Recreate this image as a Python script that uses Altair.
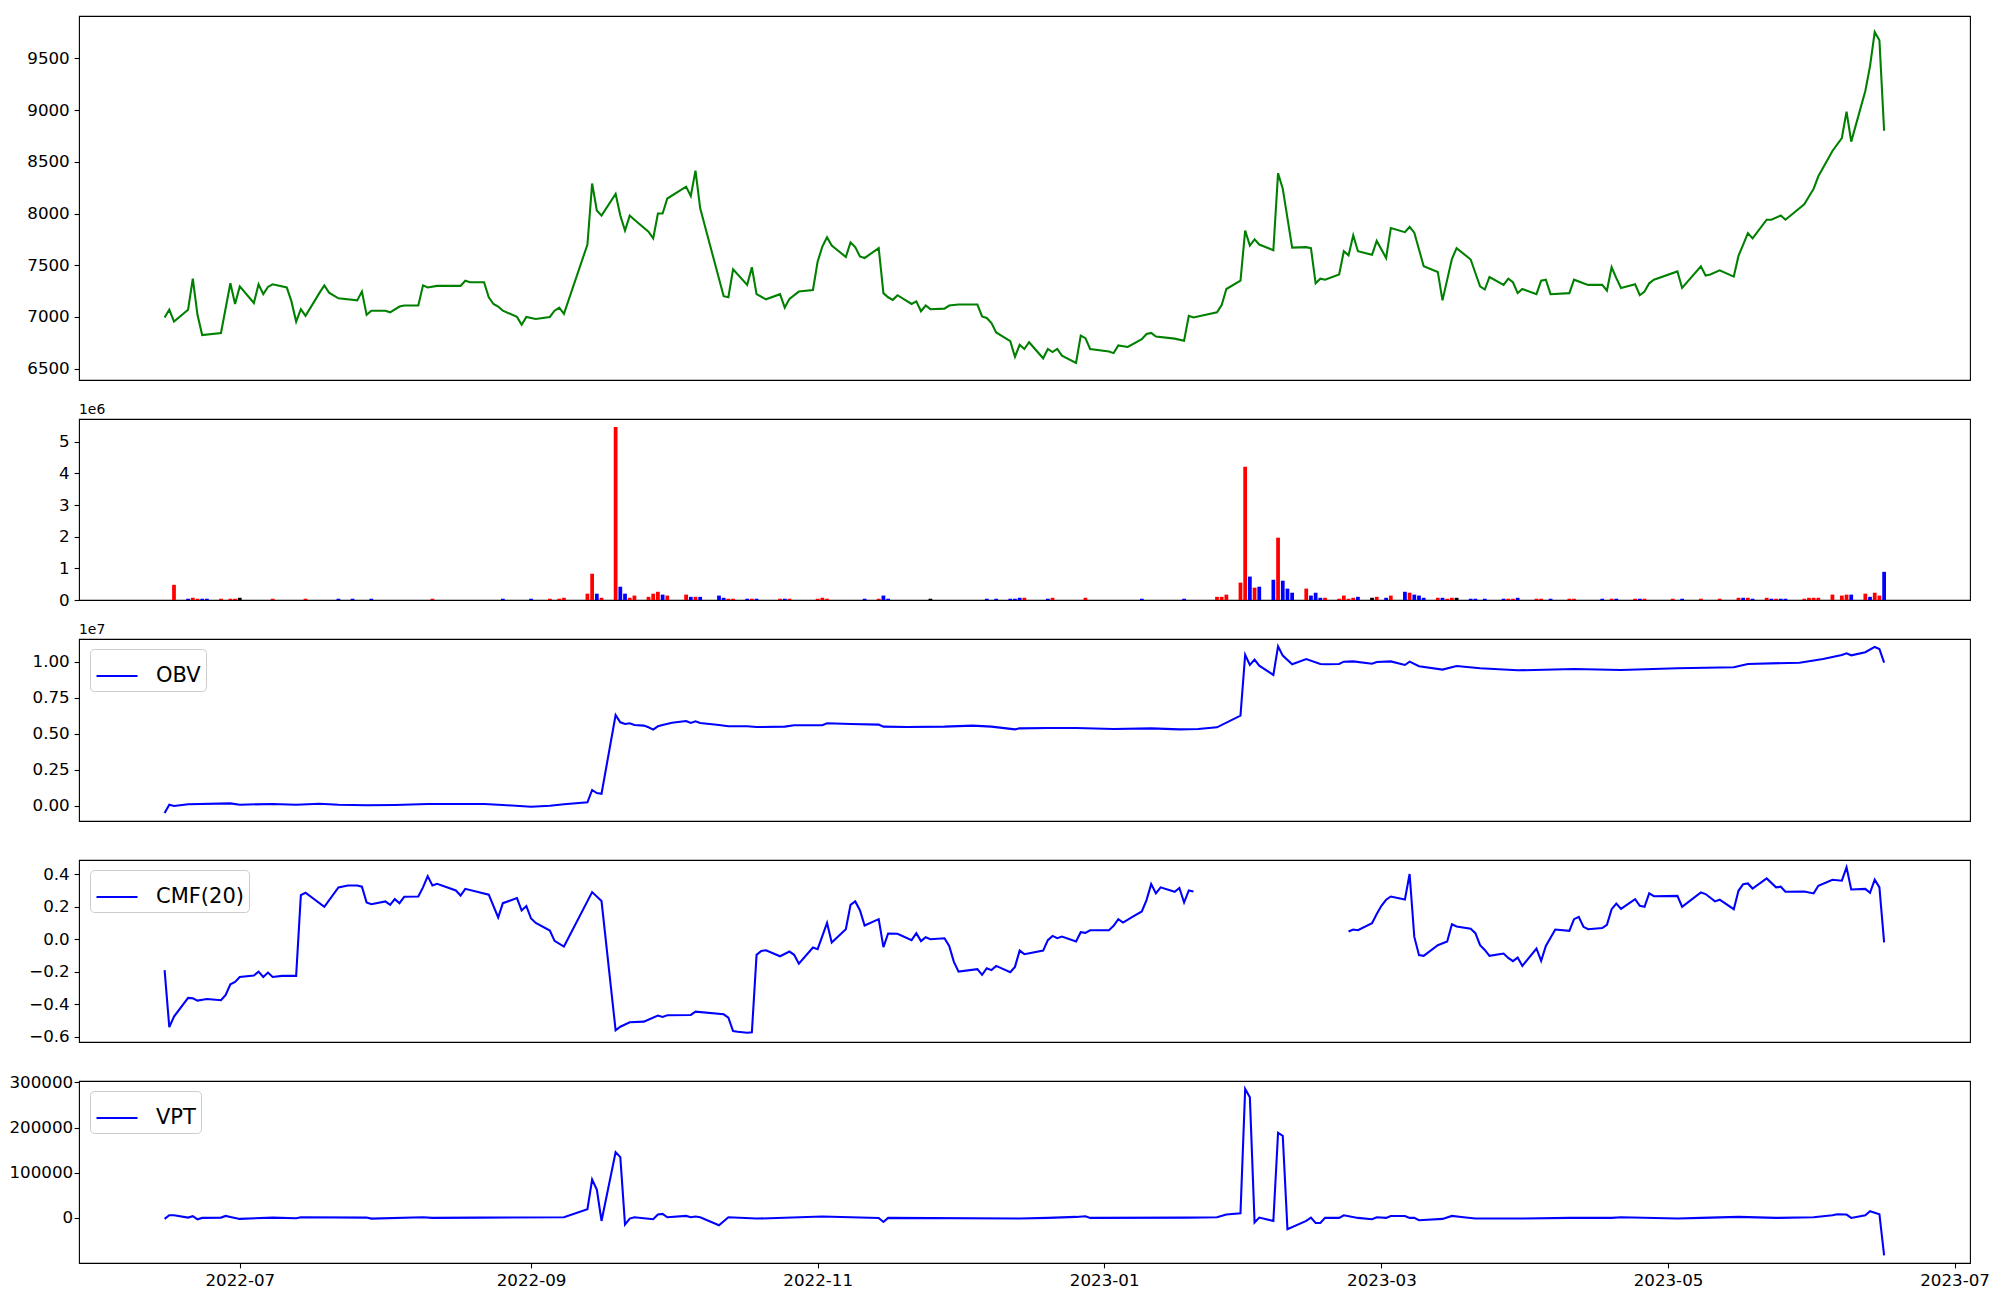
import altair as alt
import pandas as pd

FONT = "DejaVu Sans"

# ---------------- data ----------------
price = [
    ("2022-06-15", 6995), ("2022-06-16", 7070), ("2022-06-17", 6955), ("2022-06-20", 7070),
    ("2022-06-21", 7370), ("2022-06-22", 7020), ("2022-06-23", 6825), ("2022-06-27", 6845),
    ("2022-06-29", 7325), ("2022-06-30", 7125), ("2022-07-01", 7295), ("2022-07-04", 7135),
    ("2022-07-05", 7315), ("2022-07-06", 7220), ("2022-07-07", 7290), ("2022-07-08", 7315),
    ("2022-07-11", 7285), ("2022-07-12", 7150), ("2022-07-13", 6955), ("2022-07-14", 7075),
    ("2022-07-15", 7010), ("2022-07-18", 7235), ("2022-07-19", 7305), ("2022-07-20", 7235),
    ("2022-07-22", 7180), ("2022-07-26", 7160), ("2022-07-27", 7245), ("2022-07-28", 7020),
    ("2022-07-29", 7060), ("2022-08-01", 7060), ("2022-08-02", 7045), ("2022-08-04", 7100),
    ("2022-08-05", 7110), ("2022-08-08", 7110), ("2022-08-09", 7305), ("2022-08-10", 7285),
    ("2022-08-12", 7300), ("2022-08-17", 7300), ("2022-08-18", 7350), ("2022-08-19", 7335),
    ("2022-08-22", 7335), ("2022-08-23", 7190), ("2022-08-24", 7125), ("2022-08-25", 7100),
    ("2022-08-26", 7060), ("2022-08-29", 7000), ("2022-08-30", 6925), ("2022-08-31", 7000),
    ("2022-09-02", 6980), ("2022-09-05", 7000), ("2022-09-06", 7060), ("2022-09-07", 7090),
    ("2022-09-08", 7030), ("2022-09-13", 7700), ("2022-09-14", 8290), ("2022-09-15", 8030),
    ("2022-09-16", 7980), ("2022-09-19", 8190), ("2022-09-20", 7980), ("2022-09-21", 7835),
    ("2022-09-22", 7980), ("2022-09-23", 7940), ("2022-09-26", 7825), ("2022-09-27", 7760),
    ("2022-09-28", 8000), ("2022-09-29", 8000), ("2022-09-30", 8145), ("2022-10-04", 8260),
    ("2022-10-05", 8170), ("2022-10-06", 8415), ("2022-10-07", 8050), ("2022-10-12", 7200),
    ("2022-10-13", 7190), ("2022-10-14", 7460), ("2022-10-17", 7310), ("2022-10-18", 7480),
    ("2022-10-19", 7220), ("2022-10-21", 7170), ("2022-10-24", 7220), ("2022-10-25", 7090),
    ("2022-10-26", 7175), ("2022-10-28", 7245), ("2022-10-31", 7260), ("2022-11-01", 7535),
    ("2022-11-02", 7680), ("2022-11-03", 7770), ("2022-11-04", 7690), ("2022-11-07", 7580),
    ("2022-11-08", 7720), ("2022-11-09", 7675), ("2022-11-10", 7585), ("2022-11-11", 7570),
    ("2022-11-14", 7665), ("2022-11-15", 7230), ("2022-11-16", 7190), ("2022-11-17", 7165),
    ("2022-11-18", 7210), ("2022-11-21", 7125), ("2022-11-22", 7150), ("2022-11-23", 7055),
    ("2022-11-24", 7110), ("2022-11-25", 7075), ("2022-11-28", 7080), ("2022-11-29", 7110),
    ("2022-12-01", 7120), ("2022-12-05", 7120), ("2022-12-06", 7005), ("2022-12-07", 6990),
    ("2022-12-08", 6940), ("2022-12-09", 6850), ("2022-12-12", 6765), ("2022-12-13", 6615),
    ("2022-12-14", 6730), ("2022-12-15", 6690), ("2022-12-16", 6755), ("2022-12-19", 6600),
    ("2022-12-20", 6690), ("2022-12-21", 6660), ("2022-12-22", 6690), ("2022-12-23", 6625),
    ("2022-12-26", 6555), ("2022-12-27", 6820), ("2022-12-28", 6795), ("2022-12-29", 6690),
    ("2023-01-02", 6665), ("2023-01-03", 6650), ("2023-01-04", 6725), ("2023-01-06", 6710),
    ("2023-01-09", 6785), ("2023-01-10", 6835), ("2023-01-11", 6845), ("2023-01-12", 6810),
    ("2023-01-16", 6790), ("2023-01-18", 6770), ("2023-01-19", 7010), ("2023-01-20", 6995),
    ("2023-01-25", 7045), ("2023-01-26", 7115), ("2023-01-27", 7270), ("2023-01-30", 7350),
    ("2023-01-31", 7835), ("2023-02-01", 7690), ("2023-02-02", 7750), ("2023-02-03", 7700),
    ("2023-02-06", 7645), ("2023-02-07", 8390), ("2023-02-08", 8240), ("2023-02-10", 7670),
    ("2023-02-13", 7675), ("2023-02-14", 7665), ("2023-02-15", 7325), ("2023-02-16", 7370),
    ("2023-02-17", 7360), ("2023-02-20", 7410), ("2023-02-21", 7635), ("2023-02-22", 7595),
    ("2023-02-23", 7790), ("2023-02-24", 7635), ("2023-02-27", 7600), ("2023-02-28", 7735),
    ("2023-03-02", 7570), ("2023-03-03", 7860), ("2023-03-06", 7820), ("2023-03-07", 7870),
    ("2023-03-08", 7815), ("2023-03-10", 7490), ("2023-03-13", 7435), ("2023-03-14", 7160),
    ("2023-03-16", 7560), ("2023-03-17", 7665), ("2023-03-20", 7555), ("2023-03-21", 7425),
    ("2023-03-22", 7295), ("2023-03-23", 7265), ("2023-03-24", 7385), ("2023-03-27", 7310),
    ("2023-03-28", 7370), ("2023-03-29", 7335), ("2023-03-30", 7230), ("2023-03-31", 7270),
    ("2023-04-03", 7220), ("2023-04-04", 7350), ("2023-04-05", 7360), ("2023-04-06", 7220),
    ("2023-04-10", 7230), ("2023-04-11", 7360), ("2023-04-13", 7325), ("2023-04-14", 7310),
    ("2023-04-17", 7310), ("2023-04-18", 7255), ("2023-04-19", 7480), ("2023-04-20", 7375),
    ("2023-04-21", 7280), ("2023-04-24", 7315), ("2023-04-25", 7210), ("2023-04-26", 7245),
    ("2023-04-27", 7325), ("2023-04-28", 7360), ("2023-05-03", 7440), ("2023-05-04", 7280),
    ("2023-05-08", 7490), ("2023-05-09", 7400), ("2023-05-10", 7410), ("2023-05-12", 7450),
    ("2023-05-15", 7390), ("2023-05-16", 7590), ("2023-05-17", 7700), ("2023-05-18", 7810),
    ("2023-05-19", 7760), ("2023-05-22", 7940), ("2023-05-23", 7940), ("2023-05-25", 7980),
    ("2023-05-26", 7940), ("2023-05-30", 8090), ("2023-05-31", 8165), ("2023-06-01", 8240),
    ("2023-06-02", 8360), ("2023-06-05", 8605), ("2023-06-07", 8730), ("2023-06-08", 8985),
    ("2023-06-09", 8695), ("2023-06-12", 9185), ("2023-06-13", 9425), ("2023-06-14", 9755),
    ("2023-06-15", 9675), ("2023-06-16", 8800),
]

volume = [
    ("2022-06-17", 480000, "up"), ("2022-06-20", 40000, "down"), ("2022-06-21", 70000, "up"),
    ("2022-06-22", 40000, "up"), ("2022-06-23", 40000, "down"), ("2022-06-24", 40000, "down"),
    ("2022-06-27", 40000, "up"), ("2022-06-29", 40000, "up"), ("2022-06-30", 40000, "up"),
    ("2022-07-01", 70000, "flat"), ("2022-07-08", 40000, "up"), ("2022-07-15", 40000, "up"),
    ("2022-07-22", 40000, "down"), ("2022-07-25", 40000, "down"), ("2022-07-29", 40000, "down"),
    ("2022-08-11", 40000, "up"), ("2022-08-26", 40000, "down"), ("2022-09-01", 40000, "down"),
    ("2022-09-05", 40000, "up"), ("2022-09-07", 40000, "up"), ("2022-09-08", 70000, "up"),
    ("2022-09-13", 200000, "up"), ("2022-09-14", 830000, "up"), ("2022-09-15", 200000, "down"),
    ("2022-09-16", 70000, "up"), ("2022-09-19", 5470000, "up"), ("2022-09-20", 420000, "down"),
    ("2022-09-21", 200000, "down"), ("2022-09-22", 70000, "up"), ("2022-09-23", 140000, "up"),
    ("2022-09-26", 100000, "up"), ("2022-09-27", 200000, "up"), ("2022-09-28", 260000, "up"),
    ("2022-09-29", 170000, "down"), ("2022-09-30", 140000, "up"), ("2022-10-04", 170000, "up"),
    ("2022-10-05", 100000, "down"), ("2022-10-06", 100000, "up"), ("2022-10-07", 100000, "down"),
    ("2022-10-11", 140000, "down"), ("2022-10-12", 70000, "down"), ("2022-10-13", 40000, "up"),
    ("2022-10-14", 40000, "up"), ("2022-10-17", 40000, "down"), ("2022-10-18", 40000, "up"),
    ("2022-10-19", 40000, "down"), ("2022-10-24", 40000, "up"), ("2022-10-25", 40000, "down"),
    ("2022-10-26", 40000, "up"), ("2022-11-01", 40000, "up"), ("2022-11-02", 70000, "up"),
    ("2022-11-03", 40000, "up"), ("2022-11-11", 40000, "down"), ("2022-11-14", 40000, "up"),
    ("2022-11-15", 140000, "down"), ("2022-11-16", 40000, "down"), ("2022-11-25", 40000, "flat"),
    ("2022-12-07", 40000, "down"), ("2022-12-09", 40000, "down"), ("2022-12-12", 40000, "down"),
    ("2022-12-13", 40000, "down"), ("2022-12-14", 70000, "down"), ("2022-12-15", 70000, "up"),
    ("2022-12-20", 40000, "down"), ("2022-12-21", 70000, "up"), ("2022-12-28", 70000, "up"),
    ("2023-01-09", 40000, "down"), ("2023-01-18", 40000, "down"), ("2023-01-25", 100000, "up"),
    ("2023-01-26", 100000, "up"), ("2023-01-27", 170000, "up"), ("2023-01-30", 550000, "up"),
    ("2023-01-31", 4210000, "up"), ("2023-02-01", 740000, "down"), ("2023-02-02", 390000, "up"),
    ("2023-02-03", 420000, "down"), ("2023-02-06", 640000, "down"), ("2023-02-07", 1970000, "up"),
    ("2023-02-08", 610000, "down"), ("2023-02-09", 360000, "down"), ("2023-02-10", 230000, "down"),
    ("2023-02-13", 360000, "up"), ("2023-02-14", 140000, "down"), ("2023-02-15", 230000, "down"),
    ("2023-02-16", 70000, "down"), ("2023-02-17", 70000, "up"), ("2023-02-20", 40000, "up"),
    ("2023-02-21", 140000, "up"), ("2023-02-22", 40000, "up"), ("2023-02-23", 70000, "up"),
    ("2023-02-24", 100000, "down"), ("2023-02-27", 70000, "flat"), ("2023-02-28", 100000, "up"),
    ("2023-03-02", 70000, "down"), ("2023-03-03", 140000, "up"), ("2023-03-06", 260000, "down"),
    ("2023-03-07", 230000, "up"), ("2023-03-08", 170000, "down"), ("2023-03-09", 140000, "down"),
    ("2023-03-10", 70000, "down"), ("2023-03-13", 70000, "up"), ("2023-03-14", 70000, "down"),
    ("2023-03-15", 40000, "up"), ("2023-03-16", 70000, "up"), ("2023-03-17", 70000, "flat"),
    ("2023-03-20", 40000, "down"), ("2023-03-21", 40000, "down"), ("2023-03-23", 40000, "down"),
    ("2023-03-27", 40000, "down"), ("2023-03-28", 40000, "up"), ("2023-03-29", 40000, "up"),
    ("2023-03-30", 70000, "down"), ("2023-04-03", 40000, "up"), ("2023-04-04", 40000, "up"),
    ("2023-04-06", 40000, "down"), ("2023-04-10", 40000, "up"), ("2023-04-11", 40000, "up"),
    ("2023-04-17", 40000, "down"), ("2023-04-19", 40000, "up"), ("2023-04-20", 40000, "down"),
    ("2023-04-24", 40000, "up"), ("2023-04-25", 40000, "down"), ("2023-04-26", 40000, "up"),
    ("2023-05-02", 40000, "up"), ("2023-05-04", 40000, "down"), ("2023-05-08", 40000, "up"),
    ("2023-05-12", 40000, "up"), ("2023-05-16", 70000, "up"), ("2023-05-17", 70000, "down"),
    ("2023-05-18", 70000, "up"), ("2023-05-19", 40000, "down"), ("2023-05-22", 70000, "up"),
    ("2023-05-23", 40000, "down"), ("2023-05-24", 40000, "up"), ("2023-05-25", 40000, "down"),
    ("2023-05-26", 40000, "down"), ("2023-05-30", 40000, "up"), ("2023-05-31", 70000, "up"),
    ("2023-06-01", 70000, "up"), ("2023-06-02", 70000, "up"), ("2023-06-05", 170000, "up"),
    ("2023-06-07", 140000, "up"), ("2023-06-08", 170000, "up"), ("2023-06-09", 170000, "down"),
    ("2023-06-12", 200000, "up"), ("2023-06-13", 100000, "down"), ("2023-06-14", 230000, "up"),
    ("2023-06-15", 140000, "up"), ("2023-06-16", 890000, "down"),
]

obv = [
    ("2022-06-15", -485000), ("2022-06-16", 90000), ("2022-06-17", 0), ("2022-06-20", 120000),
    ("2022-06-29", 180000), ("2022-07-01", 90000), ("2022-07-08", 140000), ("2022-07-13", 90000),
    ("2022-07-18", 160000), ("2022-07-22", 90000), ("2022-07-28", 50000), ("2022-08-03", 70000),
    ("2022-08-10", 140000), ("2022-08-22", 140000), ("2022-08-26", 70000), ("2022-09-01", -50000),
    ("2022-09-05", 20000), ("2022-09-08", 120000), ("2022-09-13", 250000), ("2022-09-14", 1110000),
    ("2022-09-15", 900000), ("2022-09-16", 850000), ("2022-09-19", 6300000), ("2022-09-20", 5800000),
    ("2022-09-21", 5680000), ("2022-09-22", 5730000), ("2022-09-23", 5610000), ("2022-09-25", 5570000),
    ("2022-09-26", 5450000), ("2022-09-27", 5290000), ("2022-09-28", 5520000), ("2022-09-29", 5610000),
    ("2022-10-01", 5770000), ("2022-10-04", 5890000), ("2022-10-05", 5750000), ("2022-10-06", 5870000),
    ("2022-10-07", 5750000), ("2022-10-11", 5610000), ("2022-10-13", 5520000), ("2022-10-17", 5520000),
    ("2022-10-19", 5470000), ("2022-10-25", 5500000), ("2022-10-27", 5590000), ("2022-11-02", 5590000),
    ("2022-11-03", 5730000), ("2022-11-08", 5680000), ("2022-11-14", 5640000), ("2022-11-15", 5500000),
    ("2022-11-20", 5470000), ("2022-11-28", 5500000), ("2022-12-04", 5570000), ("2022-12-08", 5500000),
    ("2022-12-13", 5310000), ("2022-12-14", 5380000), ("2022-12-20", 5400000), ("2022-12-26", 5400000),
    ("2023-01-03", 5330000), ("2023-01-11", 5380000), ("2023-01-17", 5310000), ("2023-01-21", 5330000),
    ("2023-01-25", 5450000), ("2023-01-30", 6260000), ("2023-01-31", 10480000), ("2023-02-01", 9770000),
    ("2023-02-02", 10140000), ("2023-02-03", 9720000), ("2023-02-06", 9080000), ("2023-02-07", 11060000),
    ("2023-02-08", 10420000), ("2023-02-10", 9820000), ("2023-02-13", 10180000), ("2023-02-16", 9840000),
    ("2023-02-17", 9820000), ("2023-02-20", 9840000), ("2023-02-21", 10000000), ("2023-02-23", 10020000),
    ("2023-02-27", 9860000), ("2023-02-28", 9980000), ("2023-03-03", 10020000), ("2023-03-06", 9770000),
    ("2023-03-07", 10000000), ("2023-03-09", 9680000), ("2023-03-14", 9450000), ("2023-03-17", 9700000),
    ("2023-03-22", 9540000), ("2023-03-30", 9400000), ("2023-04-11", 9490000), ("2023-04-21", 9420000),
    ("2023-05-03", 9540000), ("2023-05-15", 9610000), ("2023-05-18", 9840000), ("2023-05-29", 9930000),
    ("2023-06-03", 10180000), ("2023-06-07", 10460000), ("2023-06-08", 10580000), ("2023-06-09", 10440000),
    ("2023-06-12", 10650000), ("2023-06-14", 11020000), ("2023-06-15", 10880000), ("2023-06-16", 9930000),
]

# None marks the stretch where CMF(20) is undefined
cmf = [
    ("2022-06-15", -0.19), ("2022-06-16", -0.54), ("2022-06-17", -0.475), ("2022-06-20", -0.36),
    ("2022-06-21", -0.363), ("2022-06-22", -0.377), ("2022-06-24", -0.367), ("2022-06-27", -0.375),
    ("2022-06-28", -0.342), ("2022-06-29", -0.277), ("2022-06-30", -0.262), ("2022-07-01", -0.232),
    ("2022-07-04", -0.223), ("2022-07-05", -0.199), ("2022-07-06", -0.232), ("2022-07-07", -0.205),
    ("2022-07-08", -0.232), ("2022-07-10", -0.225), ("2022-07-13", -0.225), ("2022-07-14", 0.27),
    ("2022-07-15", 0.285), ("2022-07-19", 0.199), ("2022-07-22", 0.318), ("2022-07-24", 0.33),
    ("2022-07-26", 0.33), ("2022-07-27", 0.322), ("2022-07-28", 0.225), ("2022-07-29", 0.215),
    ("2022-08-01", 0.232), ("2022-08-02", 0.211), ("2022-08-03", 0.246), ("2022-08-04", 0.221),
    ("2022-08-05", 0.26), ("2022-08-08", 0.262), ("2022-08-09", 0.318), ("2022-08-10", 0.387),
    ("2022-08-11", 0.33), ("2022-08-12", 0.34), ("2022-08-16", 0.299), ("2022-08-17", 0.268),
    ("2022-08-18", 0.309), ("2022-08-23", 0.273), ("2022-08-25", 0.133), ("2022-08-26", 0.221),
    ("2022-08-29", 0.252), ("2022-08-30", 0.176), ("2022-08-31", 0.203), ("2022-09-01", 0.127),
    ("2022-09-02", 0.1), ("2022-09-05", 0.053), ("2022-09-06", -0.01), ("2022-09-08", -0.045),
    ("2022-09-14", 0.289), ("2022-09-16", 0.234), ("2022-09-19", -0.559), ("2022-09-20", -0.537),
    ("2022-09-22", -0.51), ("2022-09-25", -0.506), ("2022-09-28", -0.469), ("2022-09-29", -0.477),
    ("2022-09-30", -0.467), ("2022-10-05", -0.465), ("2022-10-06", -0.445), ("2022-10-12", -0.461),
    ("2022-10-13", -0.482), ("2022-10-14", -0.564), ("2022-10-15", -0.568), ("2022-10-17", -0.574),
    ("2022-10-18", -0.572), ("2022-10-19", -0.096), ("2022-10-20", -0.072), ("2022-10-21", -0.068),
    ("2022-10-24", -0.105), ("2022-10-26", -0.076), ("2022-10-27", -0.096), ("2022-10-28", -0.15),
    ("2022-10-31", -0.051), ("2022-11-01", -0.061), ("2022-11-03", 0.1), ("2022-11-04", -0.02),
    ("2022-11-07", 0.061), ("2022-11-08", 0.211), ("2022-11-09", 0.232), ("2022-11-10", 0.178),
    ("2022-11-11", 0.084), ("2022-11-14", 0.123), ("2022-11-15", -0.049), ("2022-11-16", 0.035),
    ("2022-11-18", 0.033), ("2022-11-21", -0.006), ("2022-11-22", 0.037), ("2022-11-23", -0.012),
    ("2022-11-24", 0.012), ("2022-11-25", 0.0), ("2022-11-28", 0.006), ("2022-11-29", -0.041),
    ("2022-11-30", -0.139), ("2022-12-01", -0.199), ("2022-12-05", -0.184), ("2022-12-06", -0.219),
    ("2022-12-07", -0.178), ("2022-12-08", -0.19), ("2022-12-09", -0.164), ("2022-12-12", -0.203),
    ("2022-12-13", -0.17), ("2022-12-14", -0.07), ("2022-12-15", -0.092), ("2022-12-19", -0.07),
    ("2022-12-20", -0.006), ("2022-12-21", 0.02), ("2022-12-22", 0.006), ("2022-12-23", 0.016),
    ("2022-12-26", -0.014), ("2022-12-27", 0.043), ("2022-12-28", 0.039), ("2022-12-29", 0.055),
    ("2023-01-02", 0.055), ("2023-01-03", 0.082), ("2023-01-04", 0.123), ("2023-01-05", 0.102),
    ("2023-01-07", 0.137), ("2023-01-09", 0.17), ("2023-01-10", 0.24), ("2023-01-11", 0.338),
    ("2023-01-12", 0.281), ("2023-01-13", 0.318), ("2023-01-16", 0.291), ("2023-01-17", 0.314),
    ("2023-01-18", 0.225), ("2023-01-19", 0.299), ("2023-01-20", 0.293), ("2023-01-25", None),
    ("2023-02-22", 0.047), ("2023-02-23", 0.059), ("2023-02-24", 0.055), ("2023-02-27", 0.098),
    ("2023-02-28", 0.154), ("2023-03-01", 0.205), ("2023-03-02", 0.242), ("2023-03-03", 0.262),
    ("2023-03-06", 0.244), ("2023-03-07", 0.4), ("2023-03-08", 0.014), ("2023-03-09", -0.098),
    ("2023-03-10", -0.102), ("2023-03-13", -0.037), ("2023-03-15", -0.014), ("2023-03-16", 0.092),
    ("2023-03-17", 0.078), ("2023-03-20", 0.064), ("2023-03-21", 0.037), ("2023-03-22", -0.037),
    ("2023-03-23", -0.066), ("2023-03-24", -0.102), ("2023-03-27", -0.088), ("2023-03-28", -0.115),
    ("2023-03-29", -0.135), ("2023-03-30", -0.113), ("2023-03-31", -0.164), ("2023-04-03", -0.057),
    ("2023-04-04", -0.133), ("2023-04-05", -0.041), ("2023-04-07", 0.059), ("2023-04-10", 0.051),
    ("2023-04-11", 0.123), ("2023-04-12", 0.137), ("2023-04-13", 0.076), ("2023-04-14", 0.061),
    ("2023-04-17", 0.068), ("2023-04-18", 0.088), ("2023-04-19", 0.184), ("2023-04-20", 0.219),
    ("2023-04-21", 0.186), ("2023-04-24", 0.246), ("2023-04-25", 0.205), ("2023-04-26", 0.199),
    ("2023-04-27", 0.281), ("2023-04-28", 0.264), ("2023-05-03", 0.266), ("2023-05-04", 0.199),
    ("2023-05-08", 0.287), ("2023-05-09", 0.277), ("2023-05-11", 0.232), ("2023-05-12", 0.242),
    ("2023-05-15", 0.184), ("2023-05-16", 0.297), ("2023-05-17", 0.338), ("2023-05-18", 0.342),
    ("2023-05-19", 0.311), ("2023-05-22", 0.373), ("2023-05-24", 0.318), ("2023-05-25", 0.322),
    ("2023-05-26", 0.291), ("2023-05-30", 0.293), ("2023-06-01", 0.281), ("2023-06-02", 0.328),
    ("2023-06-05", 0.365), ("2023-06-07", 0.359), ("2023-06-08", 0.441), ("2023-06-09", 0.305),
    ("2023-06-12", 0.309), ("2023-06-13", 0.285), ("2023-06-14", 0.365), ("2023-06-15", 0.318),
    ("2023-06-16", -0.02),
]

vpt = [
    ("2022-06-15", -2200), ("2022-06-16", 5900), ("2022-06-17", 5900), ("2022-06-20", 700),
    ("2022-06-21", 3700), ("2022-06-22", -3000), ("2022-06-23", 0), ("2022-06-27", 700),
    ("2022-06-28", 4400), ("2022-06-29", 2200), ("2022-07-01", -2200), ("2022-07-08", 700),
    ("2022-07-13", -700), ("2022-07-14", 1500), ("2022-07-28", 700), ("2022-07-29", -1500),
    ("2022-08-09", 1500), ("2022-08-11", 0), ("2022-08-21", 700), ("2022-09-08", 1500),
    ("2022-09-13", 19200), ("2022-09-14", 85000), ("2022-09-15", 62800), ("2022-09-16", -6700),
    ("2022-09-19", 145600), ("2022-09-20", 134500), ("2022-09-21", -14800), ("2022-09-22", -1500),
    ("2022-09-23", 1500), ("2022-09-27", -3000), ("2022-09-28", 7400), ("2022-09-29", 8900),
    ("2022-09-30", 1500), ("2022-10-04", 4400), ("2022-10-05", 1500), ("2022-10-06", 3000),
    ("2022-10-07", 1500), ("2022-10-11", -16300), ("2022-10-13", 1500), ("2022-10-19", -1500),
    ("2022-11-02", 3000), ("2022-11-14", 0), ("2022-11-15", -8900), ("2022-11-16", 0),
    ("2022-12-14", -1500), ("2022-12-20", 0), ("2022-12-26", 2200), ("2022-12-28", 3700),
    ("2022-12-29", 0), ("2023-01-19", 700), ("2023-01-25", 1500), ("2023-01-27", 7400),
    ("2023-01-30", 10300), ("2023-01-31", 285300), ("2023-02-01", 266800), ("2023-02-02", -10300),
    ("2023-02-03", 700), ("2023-02-06", -6700), ("2023-02-07", 188500), ("2023-02-08", 181800),
    ("2023-02-09", -25100), ("2023-02-13", -6700), ("2023-02-14", 700), ("2023-02-15", -11100),
    ("2023-02-16", -11100), ("2023-02-17", 0), ("2023-02-20", 0), ("2023-02-21", 5900),
    ("2023-02-24", 0), ("2023-02-27", -3000), ("2023-02-28", 1500), ("2023-03-02", 0),
    ("2023-03-03", 4400), ("2023-03-06", 4400), ("2023-03-07", 0), ("2023-03-08", 0),
    ("2023-03-09", -5200), ("2023-03-14", -2200), ("2023-03-16", 4400), ("2023-03-18", 2200),
    ("2023-03-21", -1500), ("2023-03-30", -1500), ("2023-04-10", 0), ("2023-04-19", 0),
    ("2023-04-21", 1500), ("2023-05-03", -1500), ("2023-05-08", 0), ("2023-05-16", 2200),
    ("2023-05-24", 0), ("2023-06-01", 1500), ("2023-06-05", 5900), ("2023-06-06", 8100),
    ("2023-06-08", 7400), ("2023-06-09", 0), ("2023-06-12", 5900), ("2023-06-13", 14800),
    ("2023-06-15", 8100), ("2023-06-16", -82800),
]

x_tick_dates = ["2022-07-01", "2022-09-01", "2022-11-01", "2023-01-01",
                "2023-03-01", "2023-05-01", "2023-07-01"]
price_ticks = [6500, 7000, 7500, 8000, 8500, 9000, 9500]
volume_ticks = [0, 1000000, 2000000, 3000000, 4000000, 5000000]
obv_ticks = [0, 2500000, 5000000, 7500000, 10000000]
cmf_ticks = [-0.6, -0.4, -0.2, 0.0, 0.2, 0.4]
vpt_ticks = [0, 100000, 200000, 300000]

# ---------------- frames ----------------
price_df = pd.DataFrame(price, columns=["date", "close"])
vol_df = pd.DataFrame(volume, columns=["date", "volume", "move"])
d = pd.to_datetime(vol_df["date"])
vol_df["x0"] = (d - pd.Timedelta(hours=9.6)).dt.strftime("%Y-%m-%dT%H:%M:%SZ")
vol_df["x1"] = (d + pd.Timedelta(hours=9.6)).dt.strftime("%Y-%m-%dT%H:%M:%SZ")
obv_df = pd.DataFrame(obv, columns=["date", "obv"])
obv_df["series"] = "OBV"
cmf_df = pd.DataFrame(cmf, columns=["date", "cmf"])
cmf_df["seg"] = cmf_df["cmf"].isna().cumsum()
cmf_df = cmf_df.dropna()
cmf_df["series"] = "CMF(20)"
vpt_df = pd.DataFrame(vpt, columns=["date", "vpt"])
vpt_df["series"] = "VPT"


def dt(s):
    y, m, dd = (int(v) for v in s.split("-"))
    return alt.DateTime(year=y, month=m, date=dd, utc=True)


W = 1891
LABEL_SIZE = 16.7
x_scale = alt.Scale(
    type="utc",
    domain=[alt.DateTime(year=2022, month=5, date=27, hours=18, minutes=43, utc=True),
            alt.DateTime(year=2023, month=7, date=4, hours=6, minutes=43, utc=True)],
)

TICK = dict(tickSize=4.86, tickWidth=1.1, tickColor="black", labelFont=FONT,
            labelFontSize=LABEL_SIZE, labelColor="black",
            domain=False, grid=False, title=None)


def yaxis(values, pad=4.9, **kw):
    return alt.Axis(values=values, labelOverlap=False, labelPadding=pad, **TICK, **kw)


def legend():
    return alt.Legend(orient="none", legendX=11, legendY=10, title=None,
                      symbolType="stroke", symbolSize=1681, symbolStrokeWidth=2.08,
                      labelFont=FONT, labelFontSize=21, labelColor="black",
                      labelOffset=17, fillColor="white", strokeColor="#cccccc",
                      cornerRadius=4, padding=5)


def offset_title(text):
    return alt.TitleParams(text, anchor="start", frame="group", font=FONT, fontSize=13.9,
                           fontWeight="normal", color="black", offset=2,
                           baseline="bottom", dy=14)


blue = "#0000ff"

p1 = alt.Chart(price_df).mark_line(color="#008000", strokeWidth=2.08, clip=True).encode(
    x=alt.X("date:T", scale=x_scale, axis=None),
    y=alt.Y("close:Q", scale=alt.Scale(domain=[6390, 9910], nice=False, zero=False),
            axis=yaxis(price_ticks, format="d")),
).properties(width=W, height=364)

p2 = alt.Chart(vol_df).mark_bar(clip=True).encode(
    x=alt.X("x0:T", scale=x_scale, axis=None),
    x2="x1:T",
    y=alt.Y("volume:Q", scale=alt.Scale(domain=[0, 5720000], nice=False),
            axis=yaxis(volume_ticks, labelExpr="format(datum.value / 1000000, 'd')")),
    y2=alt.datum(0),
    color=alt.Color("move:N", scale=alt.Scale(domain=["up", "down", "flat"],
                                              range=["#ff0000", "#0000ff", "#000000"]),
                    legend=None),
).properties(width=W, height=181, title=offset_title("1e6"))

p3 = alt.Chart(obv_df).mark_line(strokeWidth=2.08, clip=True).encode(
    x=alt.X("date:T", scale=x_scale, axis=None),
    y=alt.Y("obv:Q", scale=alt.Scale(domain=[-1040000, 11570000], nice=False, zero=False),
            axis=yaxis(obv_ticks, labelExpr="format(datum.value / 10000000, '.2f')")),
    color=alt.Color("series:N", scale=alt.Scale(domain=["OBV"], range=[blue]), legend=legend()),
).properties(width=W, height=182, title=offset_title("1e7"))

p4 = alt.Chart(cmf_df).mark_line(strokeWidth=2.08, clip=True).encode(
    x=alt.X("date:T", scale=x_scale, axis=None),
    y=alt.Y("cmf:Q", scale=alt.Scale(domain=[-0.631, 0.486], nice=False, zero=False),
            axis=yaxis(cmf_ticks, format=".1f")),
    detail="seg:N",
    color=alt.Color("series:N", scale=alt.Scale(domain=["CMF(20)"], range=[blue]), legend=legend()),
).properties(width=W, height=182)

p5 = alt.Chart(vpt_df).mark_line(strokeWidth=2.08, clip=True).encode(
    x=alt.X("date:T", scale=x_scale,
            axis=alt.Axis(values=[dt(s) for s in x_tick_dates], format="%Y-%m",
                          labelFlush=False, labelOverlap=False, labelPadding=4.9, **TICK)),
    y=alt.Y("vpt:Q", scale=alt.Scale(domain=[-99800, 303000], nice=False, zero=False),
            axis=yaxis(vpt_ticks, pad=1.5, format="d")),
    color=alt.Color("series:N", scale=alt.Scale(domain=["VPT"], range=[blue]), legend=legend()),
).properties(width=W, height=182)

chart = alt.vconcat(p1, p2, p3, p4, p5, spacing=39, bounds="flush").resolve_scale(
    color="independent", y="independent"
).resolve_legend(color="independent").properties(
    padding={"left": 0, "top": 7, "right": 0, "bottom": 4},
    background="white",
).configure_view(stroke="black", strokeWidth=1.1)

chart.save("out.html", embed_options={"renderer": "svg", "actions": False})
